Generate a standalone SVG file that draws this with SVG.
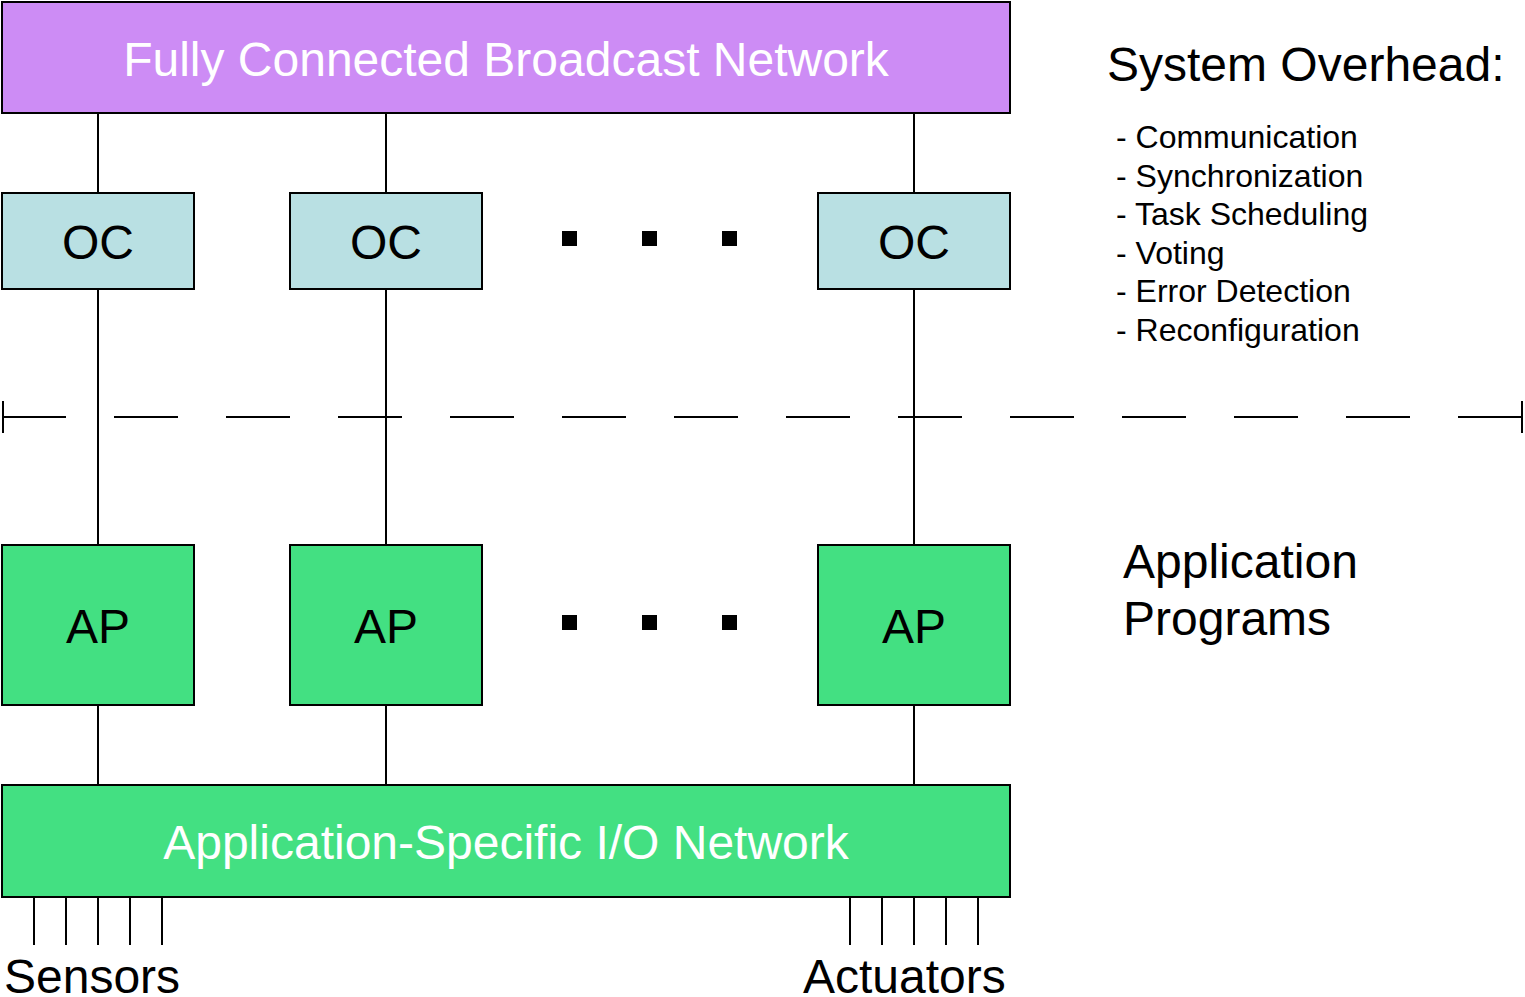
<svg xmlns="http://www.w3.org/2000/svg" width="1525" height="997" viewBox="0 0 1525 997">
<style>
.box{stroke:#000;stroke-width:2}
.ln{stroke:#000;stroke-width:2;fill:none}
.t{font-family:"Liberation Sans",Arial,sans-serif;font-size:48px}
.w{fill:#fff}
.k{fill:#000}
.s{font-family:"Liberation Sans",Arial,sans-serif;font-size:32px;fill:#000}
</style>
<rect width="1525" height="997" fill="#fff"/>
<g id="connectors">
<path class="ln" d="M98 113V193M386 113V193M914 113V193M98 289V545M386 289V545M914 289V545M98 705V785M386 705V785M914 705V785"/>
<path class="ln" d="M34 897V945M66 897V945M98 897V945M130 897V945M162 897V945M850 897V945M882 897V945M914 897V945M946 897V945M978 897V945"/>
</g>
<g id="boundary">
<path class="ln" d="M2 417H1522" stroke-dasharray="64 48"/>
<path class="ln" d="M3 401V433M1522 401V433"/>
</g>
<g id="broadcast"><rect class="box" x="2" y="2" width="1008" height="111" fill="#cd8cf5"/><text class="t w" x="506" y="76" text-anchor="middle">Fully Connected Broadcast Network</text></g>
<g id="oc1"><rect class="box" x="2" y="193" width="192" height="96" fill="#b9e0e3"/><text class="t k" x="98" y="259" text-anchor="middle">OC</text></g>
<g id="oc2"><rect class="box" x="290" y="193" width="192" height="96" fill="#b9e0e3"/><text class="t k" x="386" y="259" text-anchor="middle">OC</text></g>
<g id="oc3"><rect class="box" x="818" y="193" width="192" height="96" fill="#b9e0e3"/><text class="t k" x="914" y="259" text-anchor="middle">OC</text></g>
<g id="dots1"><rect x="562" y="231" width="15" height="15"/><rect x="642" y="231" width="15" height="15"/><rect x="722" y="231" width="15" height="15"/></g>
<g id="ap1"><rect class="box" x="2" y="545" width="192" height="160" fill="#43e082"/><text class="t k" x="98" y="643" text-anchor="middle">AP</text></g>
<g id="ap2"><rect class="box" x="290" y="545" width="192" height="160" fill="#43e082"/><text class="t k" x="386" y="643" text-anchor="middle">AP</text></g>
<g id="ap3"><rect class="box" x="818" y="545" width="192" height="160" fill="#43e082"/><text class="t k" x="914" y="643" text-anchor="middle">AP</text></g>
<g id="dots2"><rect x="562" y="615" width="15" height="15"/><rect x="642" y="615" width="15" height="15"/><rect x="722" y="615" width="15" height="15"/></g>
<g id="io"><rect class="box" x="2" y="785" width="1008" height="112" fill="#43e082"/><text class="t w" x="506" y="859" text-anchor="middle">Application-Specific I/O Network</text></g>
<g id="labels">
<text class="t k" x="4" y="993">Sensors</text>
<text class="t k" x="803" y="993">Actuators</text>
<text class="t k" x="1107" y="81">System Overhead:</text>
<text class="s" x="1116" y="148">- Communication</text>
<text class="s" x="1116" y="187">- Synchronization</text>
<text class="s" x="1116" y="225">- Task Scheduling</text>
<text class="s" x="1116" y="264">- Voting</text>
<text class="s" x="1116" y="302">- Error Detection</text>
<text class="s" x="1116" y="341">- Reconfiguration</text>
<text class="t k" x="1123" y="578">Application</text>
<text class="t k" x="1123" y="635">Programs</text>
</g>
</svg>
